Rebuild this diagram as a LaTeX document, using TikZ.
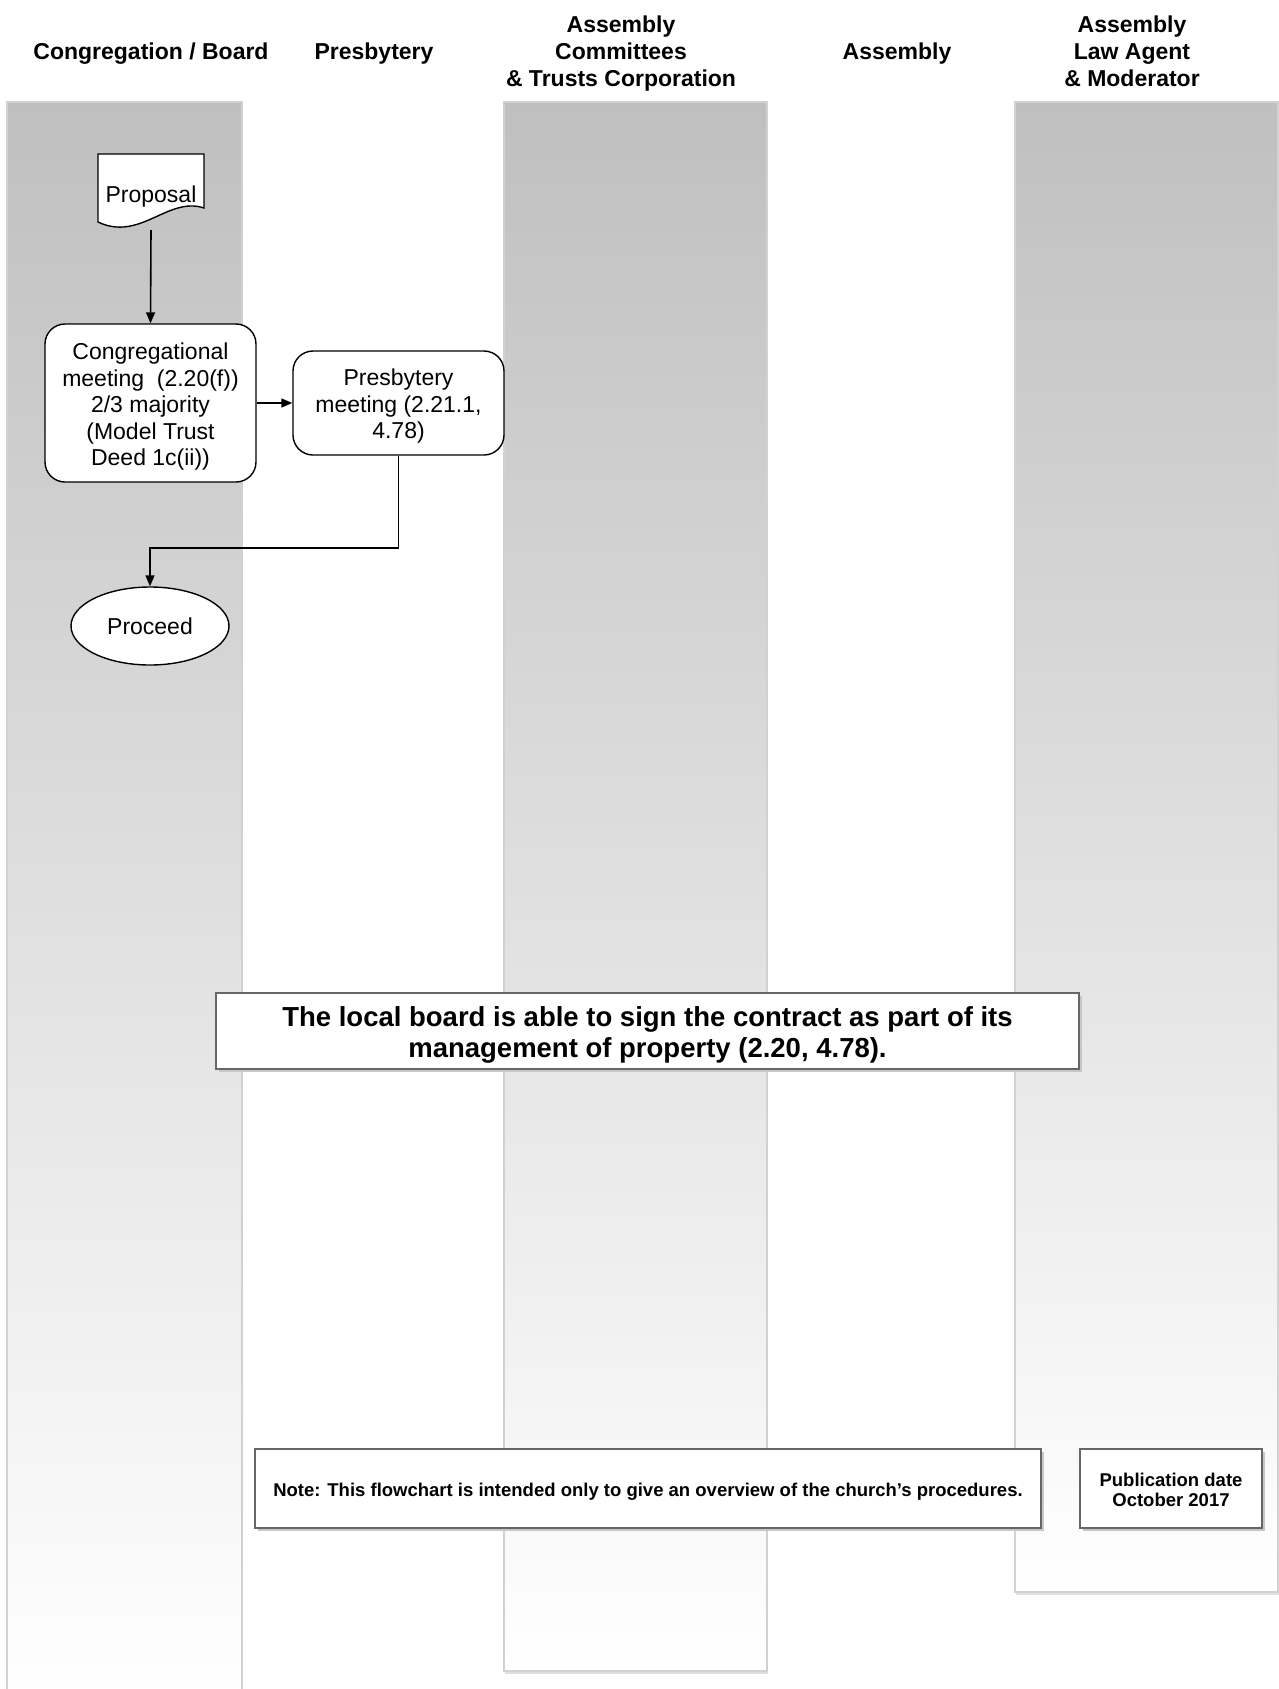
\documentclass[tikz,border=0pt]{standalone}
\usepackage{fontspec}
\setmainfont{Liberation Sans}
\usetikzlibrary{arrows.meta,shapes.geometric}
\begin{document}
\begin{tikzpicture}[x=1pt,y=-1pt,
  lane/.style={draw=black!18, line width=1.3pt, top color=black!25, bottom color=white},
  laneshadow/.style={draw=black!12, line width=2.5pt},
  hdr/.style={font=\fontsize{23}{27}\selectfont\bfseries, align=center, inner sep=0pt},
  proc/.style={draw, line width=1.4pt, fill=white, rounded corners=20pt,
    minimum width=211pt, inner sep=0pt},
  txt/.style={align=center, font=\fontsize{23}{26.5}\selectfont, inner sep=0pt},
  term/.style={draw, line width=1.4pt, fill=white, ellipse, align=center,
    font=\fontsize{23}{26.5}\selectfont, minimum width=158pt, minimum height=78pt, inner sep=0pt},
  notebox/.style={draw=black!60, line width=1.4pt, fill=white, inner sep=0pt},
  boxshadow/.style={fill=black!22},
  arr/.style={line width=1.6pt, -{Triangle[length=11pt,width=9pt]}}
]
\useasboundingbox (0,0) rectangle (1279,1689);
\fill[white] (0,0) rectangle (1279,1689);

% lanes
\draw[laneshadow] (505,1673) -- (768,1673);
\draw[laneshadow] (1016,1594) -- (1279,1594);
\shade[lane] (7,102) rectangle (242,1700);
\shade[lane] (504,102) rectangle (767,1671);
\shade[lane] (1015,102) rectangle (1278,1592);

% headers
\node[hdr] (h1) at (151,53.5) {Congregation / Board};
\node[hdr] (h2) at (374,53.5) {Presbytery};
\node[hdr] (h3) at (621,54) {Assembly\\Committees\\\& Trusts Corporation};
\node[hdr] (h4) at (897,53.5) {Assembly};
\node[hdr] (h5) at (1132,51.5) {Assembly\\Law Agent\\\& Moderator};

% proposal document shape
\draw[line width=1.4pt, fill=white] (98,154) -- (204,154) -- (204,208)
  .. controls (168,196) and (140,242) .. (98,222) -- cycle;
\node[minimum width=106pt, minimum height=76pt, inner sep=0pt] (prop) at (151,192) {};
\node[txt] (proptext) at (151,197) {Proposal};

% process nodes
\node[proc, minimum height=158pt] (cong) at (150.5,403) {};
\node[txt, yshift=-3.8pt] (congtext) at (cong.center)
  {Congregational\\meeting\ \ (2.20(f))\\2/3 majority\\(Model Trust\\Deed 1c(ii))};
\node[proc, minimum height=104pt] (pres) at (398.5,403) {};
\node[txt, yshift=-3.2pt] (prestext) at (pres.center)
  {Presbytery\\meeting (2.21.1,\\4.78)};
\node[term] (proceed) at (150,626) {Proceed};

% connectors
\draw[arr] (prop.south) -- (cong.north);
\draw[arr] (cong.east) -- (pres.west);
\coordinate (bend) at (150,548);
\draw[arr] (pres.south) |- (bend) -- (proceed.north);

% big statement box
\fill[boxshadow] (219,996) rectangle (1082,1072);
\node[notebox, minimum width=863pt, minimum height=76pt] (board) at (647.5,1031) {};
\node[txt, font=\fontsize{27.5}{31}\selectfont\bfseries, yshift=-4.3pt] (boardtext) at (board.center)
  {The local board is able to sign the contract as part of its\\management of property (2.20, 4.78).};

% note boxes
\fill[boxshadow] (258,1452) rectangle (1044,1531);
\node[notebox, minimum width=786pt, minimum height=79pt] (note) at (648,1488.5) {};
\node[txt, font=\fontsize{18.5}{19}\selectfont\bfseries, yshift=-3.2pt] (notetext) at (note.center)
  {Note: This flowchart is intended only to give an overview of the church's procedures.};
\fill[boxshadow] (1083,1452) rectangle (1265,1531);
\node[notebox, minimum width=182pt, minimum height=79pt] (pub) at (1171,1488.5) {};
\node[txt, font=\fontsize{18.5}{20.5}\selectfont\bfseries, yshift=-1.6pt] (pubtext) at (pub.center)
  {Publication date\\October 2017};
\end{tikzpicture}
\end{document}
